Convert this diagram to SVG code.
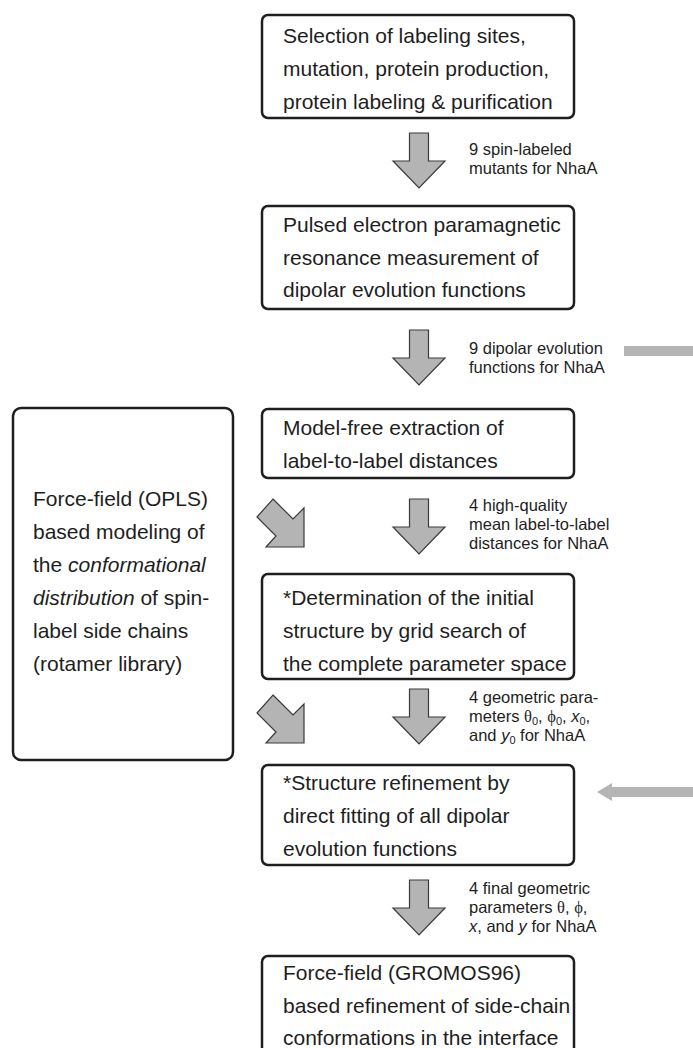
<svg xmlns="http://www.w3.org/2000/svg" width="693" height="1048" viewBox="0 0 693 1048">
  <style>
    .box { fill: #ffffff; stroke: #1e1e1e; stroke-width: 2.5; }
    .t { font-family: "Liberation Sans", Arial, sans-serif; font-size: 21px; fill: #1e1e1e; }
    .lbl { font-family: "Liberation Sans", Arial, sans-serif; font-size: 16.5px; fill: #1e1e1e; }
    .blk { fill: #b4b4b4; stroke: #3a3a3a; stroke-width: 1.2; stroke-linejoin: miter; }
    .bar { fill: #b4b4b4; }
    .gr { font-family: "Liberation Serif", "Times New Roman", serif; }
    .it { font-style: italic; }
  </style>
  <defs>
    <!-- block arrow pointing down, origin at top centre of shaft -->
    <path id="downArrow" class="blk" d="M-9.5,0 H9.5 V28 H26 L0,55 L-26,28 H-9.5 Z"/>
    <!-- block arrow pointing down-right, origin at top corner of shaft -->
    <path id="diagArrow" class="blk" d="M0,0 L20,20 L31,9 L31,48 L-7,48 L3,37 L-16,18 Z"/>
  </defs>

  <g id="node-selection">
    <rect class="box" x="262" y="15" width="312" height="103" rx="6"/>
    <text class="t" x="283" y="43">Selection of labeling sites,</text>
    <text class="t" x="283" y="76">mutation, protein production,</text>
    <text class="t" x="283" y="109">protein labeling &amp; purification</text>
  </g>

  <g id="node-pulsed-epr">
    <rect class="box" x="262" y="206" width="312" height="103" rx="6"/>
    <text class="t" x="283" y="232">Pulsed electron paramagnetic</text>
    <text class="t" x="283" y="265">resonance measurement of</text>
    <text class="t" x="283" y="297">dipolar evolution functions</text>
  </g>

  <g id="node-model-free">
    <rect class="box" x="262" y="409" width="312" height="69" rx="6"/>
    <text class="t" x="283" y="435">Model-free extraction of</text>
    <text class="t" x="283" y="468">label-to-label distances</text>
  </g>

  <g id="node-initial-structure">
    <rect class="box" x="262" y="574" width="312" height="105" rx="6"/>
    <text class="t" x="283" y="605">*Determination of the initial</text>
    <text class="t" x="283" y="638">structure by grid search of</text>
    <text class="t" x="283" y="671">the complete parameter space</text>
  </g>

  <g id="node-refinement">
    <rect class="box" x="262" y="765" width="312" height="100" rx="6"/>
    <text class="t" x="283" y="790">*Structure refinement by</text>
    <text class="t" x="283" y="823">direct fitting of all dipolar</text>
    <text class="t" x="283" y="856">evolution functions</text>
  </g>

  <g id="node-gromos">
    <rect class="box" x="262" y="956" width="312" height="110" rx="6"/>
    <text class="t" x="283" y="980">Force-field (GROMOS96)</text>
    <text class="t" x="283" y="1013">based refinement of side-chain</text>
    <text class="t" x="283" y="1045">conformations in the interface</text>
  </g>

  <g id="node-rotamer">
    <rect class="box" x="13" y="408" width="220" height="352" rx="8"/>
    <text class="t" x="33" y="506">Force-field (OPLS)</text>
    <text class="t" x="33" y="539">based modeling of</text>
    <text class="t" x="33" y="572">the <tspan class="it">conformational</tspan></text>
    <text class="t" x="33" y="605"><tspan class="it">distribution</tspan> of spin-</text>
    <text class="t" x="33" y="638">label side chains</text>
    <text class="t" x="33" y="671">(rotamer library)</text>
  </g>

  <g id="connectors">
    <use href="#downArrow" x="419" y="133"/>
    <use href="#downArrow" x="419" y="330"/>
    <use href="#downArrow" x="419" y="499"/>
    <use href="#downArrow" x="419" y="689"/>
    <use href="#downArrow" x="419" y="880"/>
    <use href="#diagArrow" x="273" y="499"/>
    <use href="#diagArrow" x="273" y="695"/>
    <!-- incoming grey feeds at the right edge -->
    <rect class="bar" x="624" y="346" width="69" height="10"/>
    <path class="bar" d="M597,792 L612,783 V787 H693 V797 H612 V801 Z"/>

    <text class="lbl" x="469" y="155">9 spin-labeled</text>
    <text class="lbl" x="469" y="174">mutants for NhaA</text>

    <text class="lbl" x="469" y="354">9 dipolar evolution</text>
    <text class="lbl" x="469" y="373">functions for NhaA</text>

    <text class="lbl" x="469" y="511">4 high-quality</text>
    <text class="lbl" x="469" y="530">mean label-to-label</text>
    <text class="lbl" x="469" y="549">distances for NhaA</text>

    <text class="lbl" x="469" y="703">4 geometric para-</text>
    <text class="lbl" x="469" y="722">meters <tspan class="gr">θ</tspan><tspan font-size="11" dy="3">0</tspan><tspan dy="-3">, </tspan><tspan class="gr">ϕ</tspan><tspan font-size="11" dy="3">0</tspan><tspan dy="-3">, </tspan><tspan class="it">x</tspan><tspan font-size="11" dy="3">0</tspan><tspan dy="-3">,</tspan></text>
    <text class="lbl" x="469" y="741">and <tspan class="it">y</tspan><tspan font-size="11" dy="3">0</tspan><tspan dy="-3"> for NhaA</tspan></text>

    <text class="lbl" x="469" y="894">4 final geometric</text>
    <text class="lbl" x="469" y="913">parameters <tspan class="gr">θ</tspan>, <tspan class="gr">ϕ</tspan>,</text>
    <text class="lbl" x="469" y="932"><tspan class="it">x</tspan>, and <tspan class="it">y</tspan> for NhaA</text>
  </g>
</svg>
